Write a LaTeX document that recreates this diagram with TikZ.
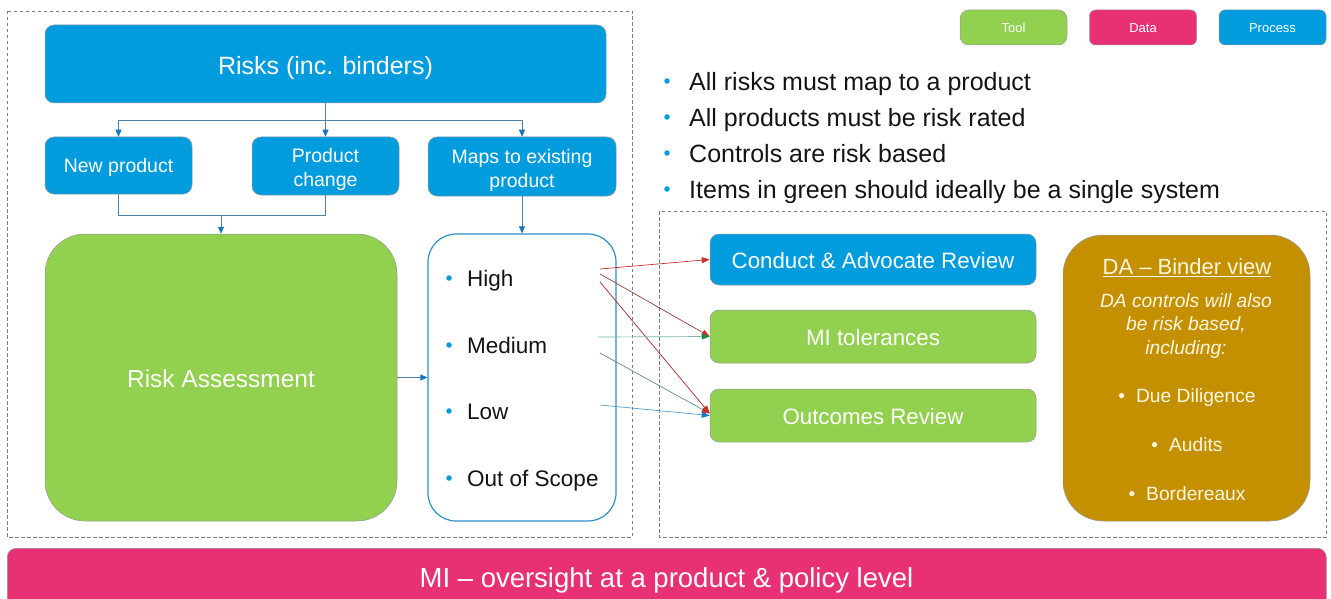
\documentclass[tikz,border=0pt]{standalone}
\usepackage{fontspec}
\setmainfont{Liberation Sans}
\usetikzlibrary{arrows.meta,calc}

\definecolor{procblue}{RGB}{0,156,222}
\definecolor{toolgreen}{RGB}{146,208,80}
\definecolor{datapink}{RGB}{232,48,116}
\definecolor{dagold}{RGB}{196,144,0}
\definecolor{linkgray}{RGB}{84,128,166}
\definecolor{tipblue}{RGB}{20,120,195}
\definecolor{framegray}{RGB}{125,125,125}
\definecolor{edgegray}{RGB}{150,150,150}
\definecolor{txtdark}{RGB}{20,20,20}
\definecolor{cream}{RGB}{255,246,224}
\definecolor{lvborder}{RGB}{46,142,201}
\definecolor{hired}{RGB}{205,45,45}
\definecolor{hibrown}{RGB}{150,60,60}
\definecolor{medteal}{RGB}{120,185,160}
\definecolor{medgray}{RGB}{100,140,130}
\definecolor{tipgreen}{RGB}{30,140,60}
\definecolor{lowblue}{RGB}{80,160,210}

\newcommand{\fsz}[2]{\fontsize{#1}{#2}\selectfont}

\begin{document}
\begin{tikzpicture}[x=1pt,y=-1pt,
  base/.style={inner sep=0pt, align=center, draw=edgegray, line width=0.5pt},
  oneline/.style={text height=#1, text depth=0pt},
  proc/.style={base, fill=procblue, text=white, rounded corners=9pt},
  tool/.style={base, fill=toolgreen, text=white, rounded corners=9pt},
  datab/.style={base, fill=datapink, text=white, rounded corners=6pt},
  boxlabel/.style={inner sep=0pt, align=center, text=white},
  frame/.style={draw=framegray, line width=0.8pt, dash pattern=on 3.5pt off 2.5pt},
  conn/.style={draw=linkgray, line width=0.8pt,
    -{Triangle[length=7pt,width=6pt,fill=tipblue,color=tipblue]}},
  plain/.style={draw=linkgray, line width=0.8pt},
  pick/.style={line width=0.7pt, -{Triangle[length=8pt,width=6pt,fill=#1,color=#1]}},
  dot/.style={circle, fill=procblue, inner sep=0pt, minimum size=5.5pt},
  lvtext/.style={anchor=base west, inner sep=0pt, text=txtdark, font=\fsz{22.5}{27}},
  note/.style={anchor=base west, inner sep=0pt, text=txtdark, font=\fsz{25}{30}},
  datext/.style={inner sep=0pt, text=cream, align=center},
  legend/.style={oneline=10.4pt, minimum width=107pt, minimum height=35pt, font=\fsz{13}{15}}
]
\useasboundingbox (0,0) rectangle (1331,599);
\clip (0,0) rectangle (1331,599);

% dashed grouping frames
\draw[frame] (7,11) rectangle (632,537);
\draw[frame] (659,211) rectangle (1326,537);

% legend
\node[tool, legend] (lgtool) at (1013.5,27.5) {Tool};
\node[datab, legend] (lgdata) at (1143,27.5) {Data};
\node[proc, legend, rounded corners=6pt] (lgproc) at (1272.5,27.5) {Process};

% risk intake
\node[proc, oneline=22pt, minimum width=561pt, minimum height=78pt, font=\fsz{25}{30}] (risks) at (325.5,64) {Risks (inc. binders)};
\node[proc, oneline=15pt, minimum width=147pt, minimum height=57pt, font=\fsz{19.5}{24}] (newp) at (118.5,165.5) {New product};
\node[proc, minimum width=147pt, minimum height=58pt] (pchange) at (325.5,166) {};
\node[boxlabel, font=\fsz{19.5}{24}] (pchangelbl) at (325.5,169) {Product\\change};
\node[proc, minimum width=188pt, minimum height=59pt] (maps) at (522,166.5) {};
\node[boxlabel, font=\fsz{19.5}{24}] (mapslbl) at (522,170.5) {Maps to existing\\product};

\coordinate (split) at (325.5,120);
\draw[plain] (risks.south) -- (split);
\draw[conn] (split) -| (newp.north);
\draw[conn] (split) -- (pchange.north);
\draw[conn] (split) -| (maps.north);

% assessment
\node[tool, oneline=20.6pt, minimum width=352pt, minimum height=287pt, rounded corners=40pt, font=\fsz{24.5}{29}] (ra) at (221,377.5) {Risk Assessment};
\node[draw=lvborder, line width=1.2pt, fill=white, rounded corners=28pt, minimum width=188pt, minimum height=287pt] (lv) at (522,377.5) {};

\coordinate (join) at (221,215);
\draw[plain] (newp.south) |- (join);
\draw[plain] (pchange.south) |- (join);
\draw[conn] (join) -- (ra.north);
\draw[conn] (maps.south) -- (lv.north);
\draw[conn] (ra.east) -- (lv.west);

% rating levels
\foreach \yy/\lbl/\nm in {278/High/lh, 345/Medium/lm, 411/Low/ll, 478/Out of Scope/lo} {
  \node[dot] (\nm dot) at (449,\yy) {};
  \node[lvtext] (\nm) at (467,\yy+8.5) {\lbl};
}

% controls
\node[proc, oneline=17pt, minimum width=326pt, minimum height=51pt, font=\fsz{22.3}{27}] (car) at (873,259.5) {Conduct \& Advocate Review};
\node[tool, oneline=17pt, minimum width=326pt, minimum height=53pt, font=\fsz{22.3}{27}] (mit) at (873,336.5) {MI tolerances};
\node[tool, oneline=17pt, minimum width=326pt, minimum height=53pt, font=\fsz{22.3}{27}] (outr) at (873,415.5) {Outcomes Review};

\coordinate (h1) at (600,269);
\coordinate (h2) at (600,274);
\coordinate (h3) at (600,282);
\coordinate (m1) at (598,337);
\coordinate (m2) at (600,353);
\coordinate (w1) at (600,405);
\draw[pick=hired, draw=hired] (h1) -- (car.west);
\draw[pick=hired, draw=hibrown] (h2) -- (mit.west);
\draw[pick=hired, draw=hired!85!black] (h3) -- ($(outr.west)+(0,-2)$);
\draw[pick=tipgreen, draw=medteal] (m1) -- (mit.west);
\draw[pick=hired, draw=medgray] (m2) -- ($(outr.west)+(0,-2)$);
\draw[pick=tipblue, draw=lowblue] (w1) -- (outr.west);

% delegated authority view
\node[base, fill=dagold, rounded corners=40pt, minimum width=247pt, minimum height=286pt] (da) at (1186.5,378) {};
\node[datext, font=\fsz{22}{26}] (datitle) at (1187,268) {\underline{DA – Binder view}};
\node[datext, font=\itshape\fsz{19.2}{23.5}] (danote) at (1186,326) {DA controls will also\\be risk based,\\including:};
\node[datext, font=\fsz{19.2}{23}] (dadd) at (1187,398) {\textbullet\hspace{11pt}Due Diligence};
\node[datext, font=\fsz{19.2}{23}] (daaud) at (1187,445) {\textbullet\hspace{11pt}Audits};
\node[datext, font=\fsz{19.2}{23}] (dabord) at (1187,494) {\textbullet\hspace{11pt}Bordereaux};

% principles
\foreach \yy/\lbl/\nm in {81/All risks must map to a product/p1, 117/All products must be risk rated/p2, 153/Controls are risk based/p3, 189/Items in green should ideally be a single system/p4} {
  \node[dot] (\nm dot) at (667,\yy) {};
  \node[note] (\nm) at (689,\yy+9.5) {\lbl};
}

% oversight bar
\node[datab, rounded corners=9pt, minimum width=1319pt, minimum height=70pt, anchor=north west] (mibar) at (7,548) {};
\node[text=white, inner sep=0pt, font=\fsz{27.5}{32}] (mitext) at (666.5,580) {MI – oversight at a product \& policy level};
\end{tikzpicture}
\end{document}
